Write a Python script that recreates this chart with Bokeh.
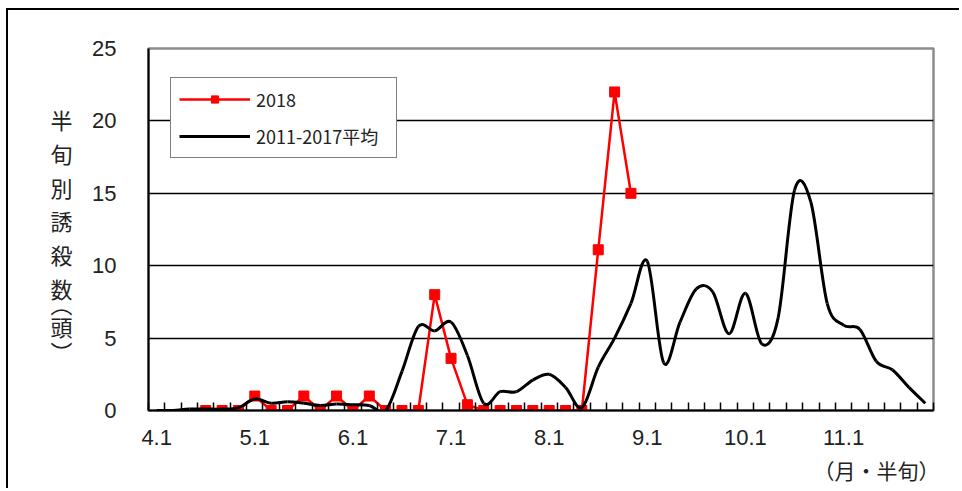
import numpy as np
from bokeh.plotting import figure
from bokeh.models import FixedTicker, Legend, LegendItem, Title, Range1d, LinearAxis
from bokeh.embed import file_html
from bokeh.resources import INLINE

# ---- data ----
n_periods = 48                      # 半旬 categories, April .. November
month_labels = ["4.1", "5.1", "6.1", "7.1", "8.1", "9.1", "10.1", "11.1"]
month_positions = [0, 6, 12, 18, 24, 30, 36, 42]
y_ticks = [0, 5, 10, 15, 20, 25]

x_2018 = list(range(3, 30))
y_2018 = [0, 0, 0, 1, 0, 0, 1, 0, 1, 0, 1, 0, 0, 0, 8, 3.6, 0.4,
          0, 0, 0, 0, 0, 0, 0, 11.1, 22, 15]

x_avg = list(range(n_periods))
y_avg = [0, 0, 0.1, 0.1, 0.1, 0.2, 0.8, 0.5, 0.6, 0.5,
         0.35, 0.45, 0.4, 0.35, 0.0, 2.7, 5.8, 5.5, 6.1, 3.8,
         0.5, 1.3, 1.3, 2.1, 2.5, 1.6, 0.2, 3.0, 5.0, 7.4,
         10.3, 3.3, 6.1, 8.4, 8.2, 5.3, 8.1, 4.6, 6.4, 15.2,
         14.4, 7.4, 5.9, 5.6, 3.4, 2.8, 1.6, 0.5]

series_2018 = "2018"
series_avg = "2011-2017平均"
y_title_chars = ["半", "旬", "別", "誘", "殺", "数", "︵", "頭", "︶"]   # 半旬別誘殺数（頭） set vertically
x_title = "（月・半旬）"

# ---- figure ----
p = figure(width=953, height=480, x_range=(-0.5, n_periods - 0.5), y_range=(0, 25),
           output_backend="svg", toolbar_location=None,
           min_border_left=140, min_border_right=28, min_border_top=38, min_border_bottom=80)
p.styles = {"margin-left": "6px", "margin-top": "8px",
            "border-left": "2px solid black", "border-top": "2px solid black"}
p.background_fill_color = "white"
p.border_fill_color = "white"
p.outline_line_color = "#8c8c8c"
p.outline_line_width = 2.5

# x axis: labels at month starts, small inward ticks between half-periods
xa = p.xaxis[0]
xa.ticker = FixedTicker(ticks=month_positions,
                        minor_ticks=[k - 0.5 for k in range(n_periods + 1)])
xa.major_label_overrides = {pos: lab for pos, lab in zip(month_positions, month_labels)}
xa.major_tick_in = 0
xa.major_tick_out = 0
xa.minor_tick_in = 8
xa.minor_tick_out = 0
xa.minor_tick_line_color = "black"
xa.minor_tick_line_width = 1.5
xa.axis_line_color = "black"
xa.axis_line_width = 2
xa.major_label_text_font = "Liberation Sans"
xa.major_label_text_font_size = "22px"
xa.major_label_text_color = "#222222"
xa.major_label_standoff = 19

ya = p.yaxis[0]
ya.ticker = FixedTicker(ticks=y_ticks)
ya.major_tick_in = 0
ya.major_tick_out = 0
ya.minor_tick_in = 0
ya.minor_tick_out = 0
ya.axis_line_color = "black"
ya.axis_line_width = 2
ya.major_label_text_font = "Liberation Sans"
ya.major_label_text_font_size = "22px"
ya.major_label_text_color = "#222222"
ya.major_label_standoff = 32

p.xgrid.visible = False
p.ygrid.ticker = FixedTicker(ticks=[5, 10, 15, 20])
p.ygrid.grid_line_color = "black"
p.ygrid.grid_line_width = 1.5

# vertical y-axis title: one character per tick of a pixel-like helper range
p.extra_y_ranges = {"ytitle": Range1d(start=410, end=48)}
title_pos = [118, 152, 186, 219, 253, 287, 302, 325, 350]
ta = LinearAxis(y_range_name="ytitle", ticker=FixedTicker(ticks=title_pos),
                major_label_overrides={pos: ch for pos, ch in zip(title_pos, y_title_chars)})
ta.axis_line_color = None
ta.major_tick_line_color = None
ta.minor_tick_line_color = None
ta.major_tick_in = 0
ta.major_tick_out = 0
ta.minor_tick_in = 0
ta.minor_tick_out = 0
ta.major_label_orientation = "horizontal"
ta.major_label_standoff = 17
ta.major_label_text_font = "Noto Sans CJK JP"
ta.major_label_text_font_size = "22px"
ta.major_label_text_color = "#222222"
p.add_layout(ta, "left")

# ---- series ----
r_line = p.line(x_2018, y_2018, line_color="#ff0000", line_width=2.5)
r_pts = p.scatter(x_2018, y_2018, marker="square", size=10,
                  fill_color="#ff0000", line_color="#ff0000")

# smoothed average line drawn as cubic Bezier segments (Catmull-Rom style control points)
P = np.column_stack([np.array(x_avg, float), np.array(y_avg, float)])
prev_pts = np.vstack([P[0], P[:-1]])
next_pts = np.vstack([P[1:], P[-1]])
tan = (next_pts - prev_pts) / 6.0
c0 = P[:-1] + tan[:-1]
c1 = P[1:] - tan[1:]
r_avg = p.bezier(x0=P[:-1, 0], y0=P[:-1, 1], x1=P[1:, 0], y1=P[1:, 1],
                 cx0=c0[:, 0], cy0=c0[:, 1], cx1=c1[:, 0], cy1=c1[:, 1],
                 line_color="black", line_width=3)

legend = Legend(items=[LegendItem(label=series_2018, renderers=[r_line, r_pts]),
                       LegendItem(label=series_avg, renderers=[r_avg])],
                location=(22, 252))
legend.glyph_width = 71
legend.glyph_height = 18
legend.spacing = 11
legend.padding = 8
legend.margin = 0
legend.label_standoff = 6
legend.label_width = 132
legend.label_text_font = "Noto Sans CJK JP"
legend.label_text_font_size = "18px"
legend.label_text_color = "#222222"
legend.border_line_color = "black"
legend.border_line_width = 1.5
legend.background_fill_color = "white"
legend.background_fill_alpha = 1.0
p.add_layout(legend, "center")

p.add_layout(Title(text=x_title, align="right", standoff=10, offset=-6,
                   text_font="Noto Sans CJK JP", text_font_size="21px",
                   text_font_style="normal", text_color="#222222"), "below")

open("out.html", "w").write(file_html(p, INLINE))
